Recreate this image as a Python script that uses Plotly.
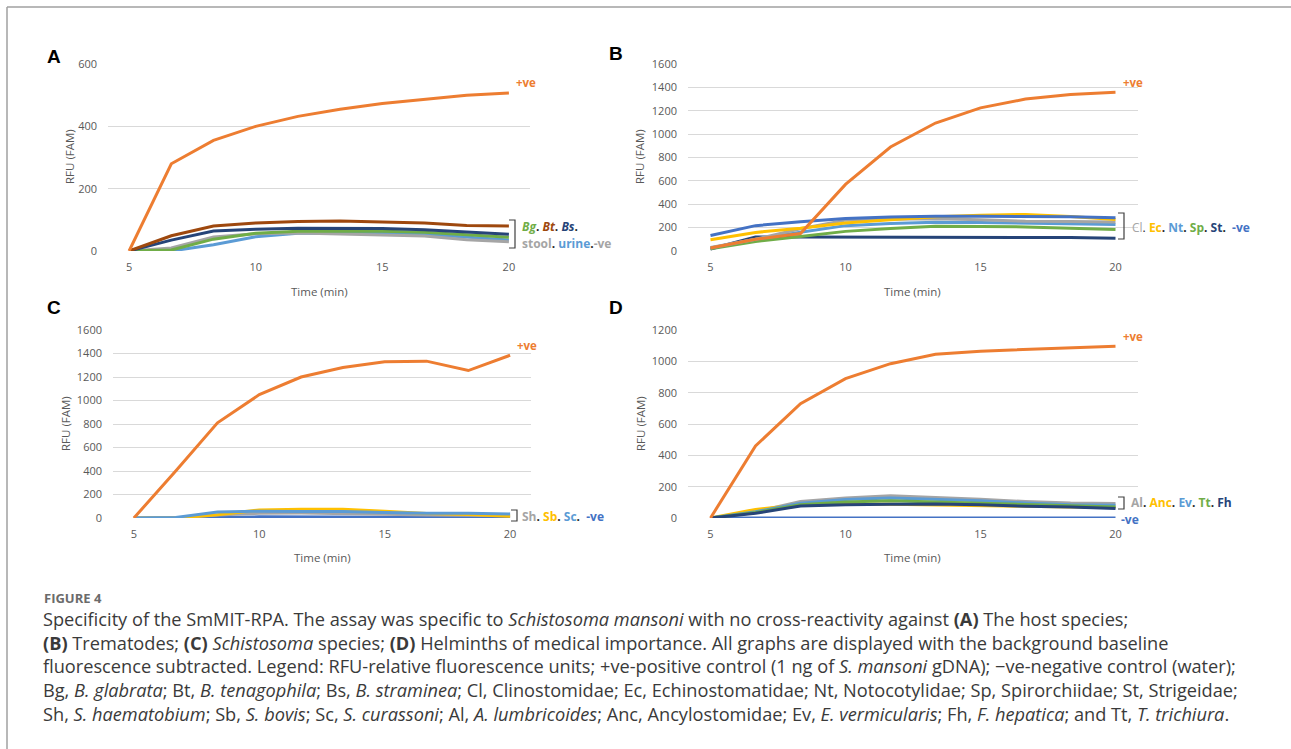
import plotly.graph_objects as go

W, H = 1291, 749

# ---------------- data ----------------
time_min = [5, 6.667, 8.333, 10, 11.667, 13.333, 15, 16.667, 18.333, 20]
x_ticks = [5, 10, 15, 20]

# Panel A - host species
A_pos = [0, 280, 355, 400, 432, 455, 473, 487, 500, 507]
A_Bt = [0, 49, 80, 90, 95, 96, 93, 90, 82, 80]
A_Bs = [0, 35, 64, 70, 73, 73, 72, 68, 60, 54]
A_Bg = [0, 3, 38, 57, 63, 64, 63, 60, 52, 44]
A_stool = [0, 10, 45, 55, 58, 55, 50, 48, 36, 30]
A_urine = [0, 0, 20, 46, 57, 58, 57, 54, 45, 35]

# Panel B - trematodes
B_pos = [25, 100, 150, 570, 890, 1095, 1225, 1300, 1340, 1358]
B_Cl = [30, 100, 190, 264, 272, 275, 268, 255, 252, 249]
B_Ec = [96, 159, 195, 240, 268, 293, 305, 313, 295, 270]
B_Nt = [25, 100, 160, 217, 235, 246, 244, 240, 232, 226]
B_Sp = [20, 81, 125, 168, 192, 212, 210, 206, 195, 183]
B_St = [17, 119, 119, 119, 119, 119, 119, 119, 115, 110]
B_neg = [133, 217, 250, 278, 290, 298, 298, 298, 292, 284]

# Panel C - Schistosoma species
C_pos = [0, 400, 810, 1050, 1200, 1280, 1330, 1335, 1255, 1385]
C_Sh = [0, 0, 25, 40, 42, 40, 32, 26, 25, 20]
C_Sb = [0, 0, 28, 68, 75, 75, 58, 38, 30, 15]
C_Sc = [0, 5, 52, 57, 55, 55, 47, 40, 40, 35]
C_neg = [0, 0, 5, 10, 8, 7, 6, 5, 5, 5]

# Panel D - helminths of medical importance
D_pos = [0, 460, 730, 890, 985, 1045, 1065, 1075, 1085, 1097]
D_Al = [0, 40, 105, 128, 142, 132, 120, 105, 95, 92]
D_Anc = [0, 55, 85, 90, 88, 85, 80, 75, 70, 70]
D_Ev = [0, 40, 95, 118, 128, 120, 110, 95, 85, 82]
D_Tt = [0, 35, 85, 102, 110, 102, 95, 85, 75, 70]
D_Fh = [0, 30, 77, 85, 87, 90, 85, 75, 70, 60]
D_neg = [0, 0, 0, 0, 0, 0, 0, 0, 0, 0]

A_yticks = [0, 200, 400, 600]
B_yticks = [0, 200, 400, 600, 800, 1000, 1200, 1400, 1600]
C_yticks = [0, 200, 400, 600, 800, 1000, 1200, 1400, 1600]
D_yticks = [0, 200, 400, 600, 800, 1000, 1200]

# ---------------- styles ----------------
ORANGE = "#ed7d31"
GRAY = "#a5a5a5"
GOLD = "#ffc000"
BLUE = "#4472c4"
GREEN = "#70ad47"
NAVY = "#264478"
LBLUE = "#5b9bd5"
BROWN = "#9e480e"
TICK = "#595959"
GRID = "#d9d9d9"
FONT = "Open Sans"


def px(x):
    return x / W


def py(y):
    return 1 - y / H


fig = go.Figure()

panels = [
    ("", (108, 530), (64, 251), 600, A_yticks,
     [(A_urine, LBLUE), (A_stool, GRAY), (A_Bg, GREEN), (A_Bs, NAVY), (A_Bt, BROWN), (A_pos, ORANGE)]),
    ("2", (688, 1138), (64, 251), 1600, B_yticks,
     [(B_St, NAVY), (B_Sp, GREEN), (B_Nt, LBLUE), (B_Cl, GRAY), (B_Ec, GOLD), (B_neg, BLUE), (B_pos, ORANGE)]),
    ("3", (113, 531), (330, 518), 1600, C_yticks,
     [(C_neg, BLUE), (C_Sh, GRAY), (C_Sb, GOLD), (C_Sc, LBLUE), (C_pos, ORANGE)]),
    ("4", (688, 1138), (330, 518), 1200, D_yticks,
     [(D_neg, BLUE), (D_Al, GRAY), (D_Anc, GOLD), (D_Ev, LBLUE), (D_Tt, GREEN), (D_Fh, NAVY), (D_pos, ORANGE)]),
]

half = (time_min[1] - time_min[0]) / 2
layout = {}
for suf, (x0, x1), (y0, y1), ymax, yt, series in panels:
    for vals, col in series:
        fig.add_trace(go.Scatter(
            x=time_min, y=vals, mode="lines",
            line=dict(color=col, width=3),
            xaxis="x" + suf, yaxis="y" + suf,
            hoverinfo="skip", showlegend=False,
        ))
    layout["xaxis" + suf] = dict(
        domain=[px(x0), px(x1)],
        range=[time_min[0] - half, time_min[-1] + half],
        anchor="y" + suf, automargin=False,
        tickvals=x_ticks, ticktext=[str(v) for v in x_ticks],
        showgrid=False, zeroline=False, showline=False,
        ticks="", ticklabelstandoff=8,
        tickfont=dict(family=FONT, size=11, color=TICK),
    )
    layout["yaxis" + suf] = dict(
        domain=[py(y1), py(y0)],
        range=[0, ymax],
        anchor="x" + suf, automargin=False,
        tickvals=yt,
        showgrid=True, gridcolor=GRID, gridwidth=1,
        zeroline=False, showline=False,
        ticks="", ticklabelstandoff=10,
        tickfont=dict(family=FONT, size=11, color=TICK),
    )

fig.update_layout(**layout)

ann = []
# axis titles
for (cx, cy) in [(70, 157), (640, 157), (65, 424), (640, 424)]:
    ann.append(dict(x=px(cx), y=py(cy), xref="paper", yref="paper", text="RFU (FAM)",
                    textangle=-90, showarrow=False, xanchor="center", yanchor="middle",
                    font=dict(family=FONT, size=11.5, color=TICK)))
for (cx, cy) in [(319, 291), (913, 291), (322, 557), (913, 557)]:
    ann.append(dict(x=px(cx), y=py(cy), xref="paper", yref="paper", text="Time (min)",
                    showarrow=False, xanchor="center", yanchor="middle",
                    font=dict(family=FONT, size=11.5, color=TICK)))

# panel letters
for letter, (cx, cy) in zip("ABCD", [(54, 56), (616, 54), (54, 307), (616, 307)]):
    ann.append(dict(x=px(cx), y=py(cy), xref="paper", yref="paper", text="<b>%s</b>" % letter,
                    showarrow=False, xanchor="center", yanchor="middle",
                    font=dict(family="Liberation Sans", size=19, color="#000000")))

# +ve labels placed at the end of each positive-control line
for suf, vals in [("", A_pos), ("2", B_pos), ("3", C_pos), ("4", D_pos)]:
    ann.append(dict(x=time_min[-1], y=vals[-1], xref="x" + suf, yref="y" + suf,
                    text="<b>+ve</b>", showarrow=False, xanchor="left", yanchor="middle",
                    xshift=5, yshift=10, font=dict(family=FONT, size=11.5, color=ORANGE)))


def col(t, c, it=False):
    s = "<span style='color:%s'>%s</span>" % (c, t)
    if it:
        s = "<i>" + s + "</i>"
    return s


DOT = "<span style='color:#262626'>.</span>"
leg_font = dict(family=FONT, size=12)
legends = [
    (520, 226, "<b>" + col("Bg", GREEN, it=True) + DOT + " " + col("Bt", BROWN, it=True) + DOT + " "
     + col("Bs", NAVY, it=True) + DOT + "</b>"),
    (520, 243, "<b>" + col("stool", GRAY) + DOT + " " + col("urine", LBLUE) + DOT + col("-ve", GRAY) + "</b>"),
    (1130, 227, col("Cl", GRAY) + DOT + " <b>" + col("Ec", GOLD) + DOT + " " + col("Nt", LBLUE) + DOT + " "
     + col("Sp", GREEN) + DOT + " " + col("St", NAVY) + DOT + "  " + col("-ve", BLUE) + "</b>"),
    (520, 516, "<b>" + col("Sh", GRAY) + DOT + " " + col("Sb", GOLD) + DOT + " " + col("Sc", LBLUE) + DOT
     + "  " + col("-ve", BLUE) + "</b>"),
    (1129, 503, "<b>" + col("Al", GRAY) + DOT + " " + col("Anc", GOLD) + DOT + " " + col("Ev", LBLUE) + DOT + " "
     + col("Tt", GREEN) + DOT + " " + col("Fh", NAVY) + "</b>"),
    (1119, 519, "<b>" + col("-ve", BLUE) + "</b>"),
]
for lx, ly, t in legends:
    ann.append(dict(x=px(lx), y=py(ly), xref="paper", yref="paper", text=t, showarrow=False,
                    xanchor="left", yanchor="middle", font=leg_font))

# caption
ann.append(dict(x=px(42), y=py(598), xref="paper", yref="paper", text="<b>FIGURE 4</b>",
                showarrow=False, xanchor="left", yanchor="middle",
                font=dict(family=FONT, size=13, color="#6b6b6b")))
caption = [
    "Specificity of the SmMIT-RPA. The assay was specific to <i>Schistosoma mansoni</i> with no cross-reactivity against <b>(A)</b> The host species;",
    "<b>(B)</b> Trematodes; <b>(C)</b> <i>Schistosoma</i> species; <b>(D)</b> Helminths of medical importance. All graphs are displayed with the background baseline",
    "fluorescence subtracted. Legend: RFU-relative fluorescence units; +ve-positive control (1 ng of <i>S. mansoni</i> gDNA); \u2212ve-negative control (water);",
    "Bg, <i>B. glabrata</i>; Bt, <i>B. tenagophila</i>; Bs, <i>B. straminea</i>; Cl, Clinostomidae; Ec, Echinostomatidae; Nt, Notocotylidae; Sp, Spirorchiidae; St, Strigeidae;",
    "Sh, <i>S. haematobium</i>; Sb, <i>S. bovis</i>; Sc, <i>S. curassoni</i>; Al, <i>A. lumbricoides</i>; Anc, Ancylostomidae; Ev, <i>E. vermicularis</i>; Fh, <i>F. hepatica</i>; and Tt, <i>T. trichiura</i>.",
]
ann.append(dict(x=px(41), y=py(666), xref="paper", yref="paper", text="<br>".join(caption),
                showarrow=False, xanchor="left", yanchor="middle", align="left",
                font=dict(family=FONT, size=18.2, color="#3a3a3a")))

fig.update_layout(annotations=ann)

# brackets and frame
shapes = []


def bracket(x0, x1, y0, y1):
    return dict(type="path", xref="paper", yref="paper",
                path="M %f %f L %f %f L %f %f L %f %f" % (px(x0), py(y0), px(x1), py(y0),
                                                          px(x1), py(y1), px(x0), py(y1)),
                line=dict(color="#404040", width=1.2))


shapes.append(bracket(509, 515, 220, 248))
shapes.append(bracket(1118, 1124, 213, 239))
shapes.append(bracket(511, 517, 510, 521))
shapes.append(bracket(1118, 1124, 497, 509))
shapes.append(dict(type="line", xref="paper", yref="paper", x0=px(7), x1=1, y0=py(7), y1=py(7),
                   line=dict(color="#a0a0a0", width=1.5)))
shapes.append(dict(type="line", xref="paper", yref="paper", x0=px(7), x1=px(7), y0=0, y1=py(7),
                   line=dict(color="#a0a0a0", width=1.5)))

fig.update_layout(
    shapes=shapes,
    width=W, height=H,
    margin=dict(l=0, r=0, t=0, b=0),
    paper_bgcolor="white", plot_bgcolor="white",
    showlegend=False,
)

fig.write_html(
    "out.html",
    config={"displayModeBar": False},
    post_script="document.body.style.margin='0px';document.body.style.overflow='hidden';",
)
